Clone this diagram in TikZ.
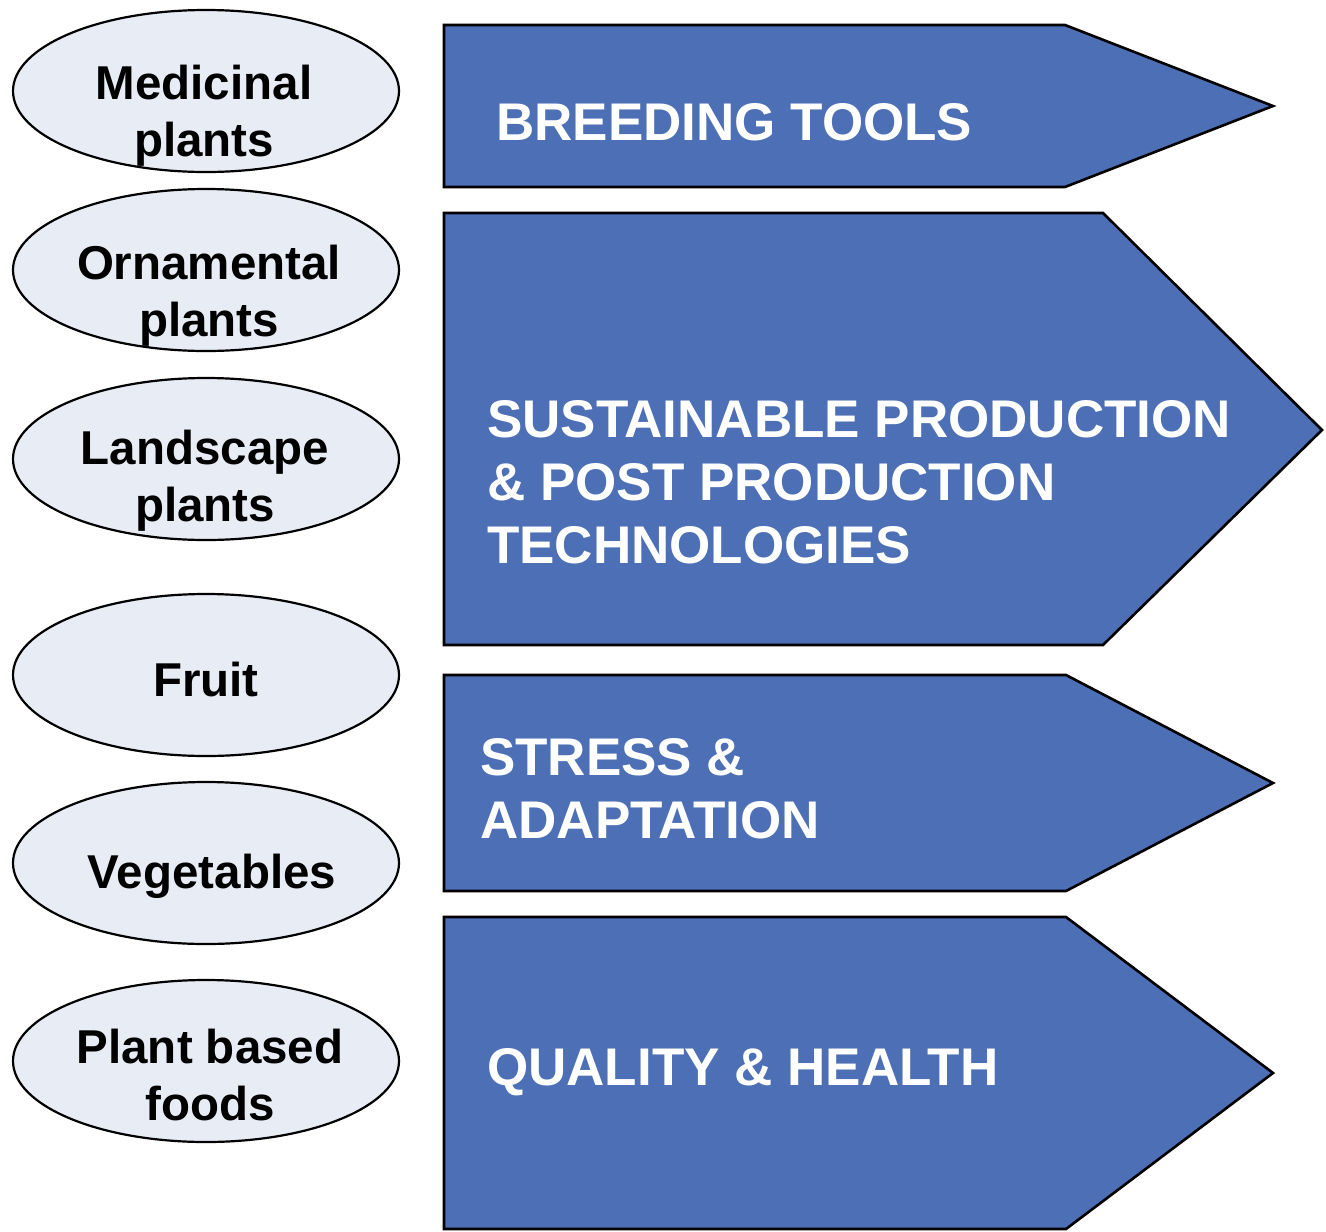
\documentclass[tikz,border=0pt]{standalone}
\usepackage{fontspec}
\setmainfont{Liberation Sans}
\usetikzlibrary{shapes.geometric}
\definecolor{bandblue}{RGB}{77,111,182}
\definecolor{ovalfill}{RGB}{232,236,245}
\tikzset{
  oval/.style={ellipse, draw=black, line width=2.2pt, fill=ovalfill, minimum width=386pt, minimum height=162pt, inner sep=0pt},
  ovaltext/.style={font=\fontsize{47.5}{57}\selectfont\bfseries, align=center, inner sep=0pt},
  band/.style={draw=black, line width=2.6pt, fill=bandblue, line join=miter},
  bandtext/.style={font=\fontsize{53}{63}\selectfont\bfseries, text=white, align=left, inner sep=0pt, anchor=base west}
}
\begin{document}
\begin{tikzpicture}[x=1pt,y=-1pt]
\useasboundingbox (0,0) rectangle (1326,1232);
% ovals
\node[oval] (med) at (206,91) {};
\node[oval] (orn) at (206,270) {};
\node[oval] (lan) at (206,459) {};
\node[oval] (fru) at (206,675) {};
\node[oval] (veg) at (206,863) {};
\node[oval] (pbf) at (206,1061) {};
\node[ovaltext] (medt) at (204,116) {Medicinal\\plants};
\node[ovaltext] (ornt) at (209,296) {Ornamental\\plants};
\node[ovaltext] (lant) at (205,481) {Landscape\\plants};
\node[ovaltext] (frut) at (206,680) {Fruit};
\node[ovaltext] (vegt) at (212,876) {Vegetables};
\node[ovaltext] (pbft) at (210,1075) {Plant based\\foods};
% bands
\draw[band] (444,25) -- (1065,25) -- (1273,106) -- (1065,187) -- (444,187) -- cycle;
\draw[band] (444,213) -- (1103,213) -- (1322,430) -- (1103,645) -- (444,645) -- cycle;
\draw[band] (444,675) -- (1066,675) -- (1273,783) -- (1066,891) -- (444,891) -- cycle;
\draw[band] (444,917) -- (1066,917) -- (1273,1073) -- (1066,1229) -- (444,1229) -- cycle;
\node[bandtext] (bt) at (496,140) {BREEDING TOOLS};
\node[bandtext] (sp) at (487,563) {SUSTAINABLE PRODUCTION\\\& POST PRODUCTION\\TECHNOLOGIES};
\node[bandtext] (sa) at (480,838) {STRESS \&\\ADAPTATION};
\node[bandtext] (qh) at (487,1085) {QUALITY \& HEALTH};
\end{tikzpicture}
\end{document}
